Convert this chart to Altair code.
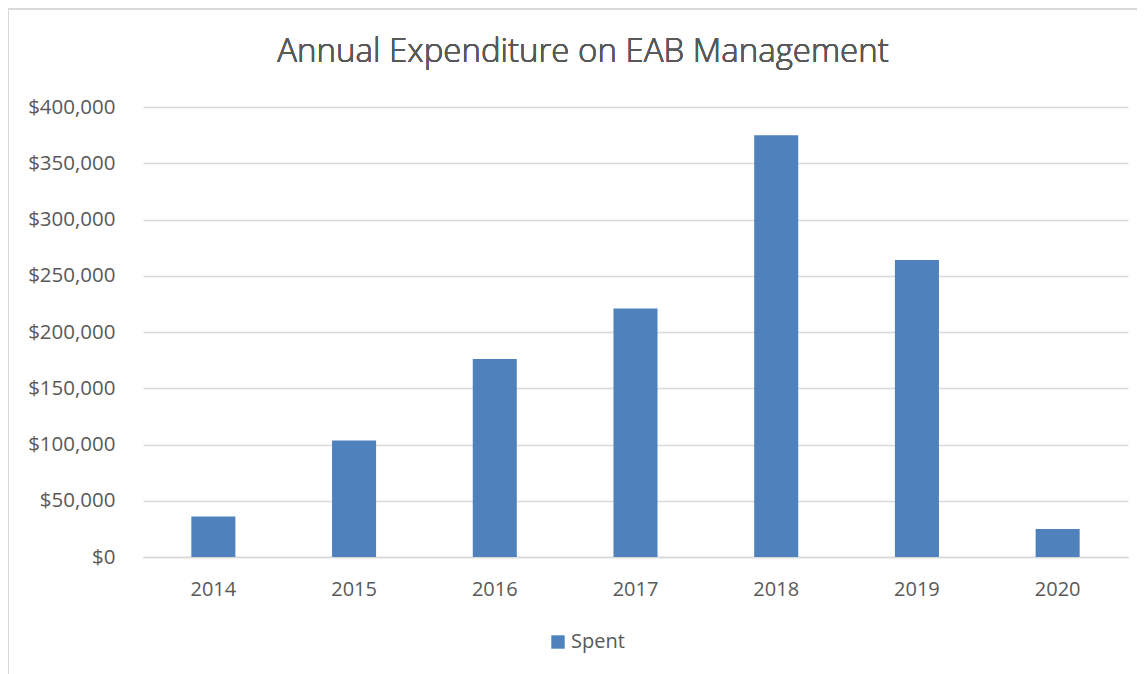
import altair as alt
import pandas as pd

years = ["2014", "2015", "2016", "2017", "2018", "2019", "2020"]
spent = [36000, 103500, 176000, 221000, 375000, 264000, 25000]
series = ["Spent"] * len(years)
y_ticks = [0, 50000, 100000, 150000, 200000, 250000, 300000, 350000, 400000]
title_text = "Annual Expenditure on EAB Management"

df = pd.DataFrame({"Year": years, "Spent": spent, "Series": series})

FONT = "Open Sans"
TEXT = "#595959"
GRID = "#D9D9D9"
BAR = "#4F81BD"

bars = alt.Chart(df).mark_bar(color=BAR).encode(
    x=alt.X("Year:N", sort=years,
            scale=alt.Scale(paddingInner=0.687, paddingOuter=0.3435),
            axis=alt.Axis(title=None, labelAngle=0, ticks=False, domain=True,
                          domainColor=GRID, domainWidth=1.5, labelPadding=22,
                          labelFontSize=20, labelColor=TEXT, labelFont=FONT)),
    y=alt.Y("Spent:Q", scale=alt.Scale(domain=[0, 400000]),
            axis=alt.Axis(title=None, format="$,.0f", values=y_ticks, labelOverlap=False,
                          ticks=False, domain=False, grid=True, gridColor=GRID, gridWidth=1.5,
                          labelPadding=28, labelFontSize=20.5, labelColor=TEXT, labelFont=FONT)),
    color=alt.Color("Series:N", scale=alt.Scale(range=[BAR]),
                    legend=alt.Legend(title=None, orient="none", legendX=405, legendY=525,
                                      symbolType="square", symbolSize=180, symbolStrokeWidth=0,
                                      labelFontSize=20, labelColor=TEXT, labelFont=FONT,
                                      labelOffset=3)),
)

border = alt.Chart(df).mark_rect(fill=None, stroke=GRID, strokeWidth=2, clip=False).encode(
    x=alt.value(-135), x2=alt.value(1100), y=alt.value(-98), y2=alt.value(700)
)

title = alt.Chart(df).mark_text(font=FONT, fontSize=33, fontWeight=300, color=TEXT,
                                align="center", baseline="alphabetic").encode(
    x=alt.value(440), y=alt.value(-45), text=alt.value(title_text)
)

chart = alt.layer(border, bars, title).properties(
    width=985, height=450,
    autosize=alt.AutoSizeParams(type="none"),
    padding={"left": 135, "top": 99, "right": 9, "bottom": 117},
).configure(background="white").configure_view(stroke=None)

chart.save("out.html", embed_options={"renderer": "svg", "actions": False})
